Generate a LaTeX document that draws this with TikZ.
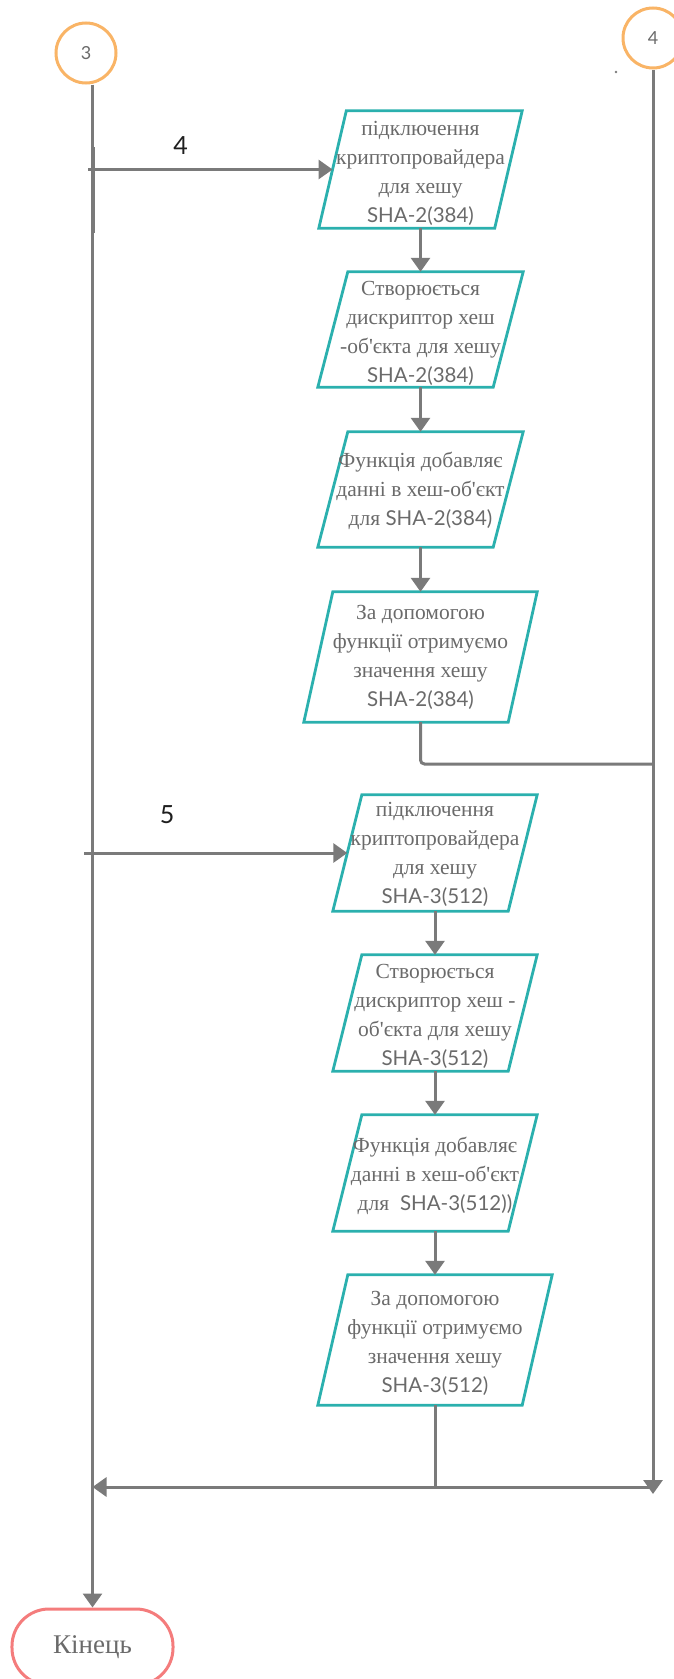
\documentclass[tikz,border=0pt]{standalone}
\usepackage{fontspec}
\setmainfont{Liberation Serif}[Ligatures=TeXOff]
\newfontfamily\lato{Lato}
\usetikzlibrary{arrows.meta,calc}
\definecolor{paraC}{HTML}{2BB0AE}
\definecolor{circC}{HTML}{F9B466}
\definecolor{endC}{HTML}{F47C7C}
\definecolor{lineC}{HTML}{7A7A7A}
\definecolor{txtC}{HTML}{6A6A6A}
\definecolor{lblC}{HTML}{1E1E1E}
\newcommand\shatxt[1]{{\lato\fontsize{20.5bp}{29bp}\selectfont #1}}
\newcommand\drawpara[2]{\draw[para] ([xshift=#2]#1.north west) -- (#1.north east) -- ([xshift=-#2]#1.south east) -- (#1.south west) -- cycle;}
\begin{document}
\begin{tikzpicture}[x=1bp,y=-1bp,
  ln/.style={draw=lineC, line width=3bp},
  arr/.style={ln, -{Triangle[length=14bp,width=19bp]}},
  box/.style={inner sep=0pt, minimum width=204bp, minimum height=116bp},
  para/.style={draw=paraC, line width=2.8bp, line join=miter},
  txt/.style={text=txtC, align=center, inner sep=0pt, font=\fontsize{21.5bp}{29bp}\selectfont},
  circS/.style={circle, draw=circC, line width=3bp, minimum size=60bp, inner sep=0pt, text=txtC, font=\lato\fontsize{18bp}{20bp}\selectfont},
  endS/.style={draw=endC, line width=3bp, rounded corners=37bp, minimum width=161bp, minimum height=76bp, text=txtC, font=\fontsize{27bp}{30bp}\selectfont},
  lbl/.style={text=lblC, inner sep=0pt, font=\lato\fontsize{25bp}{28bp}\selectfont}
]
\useasboundingbox (0,0) rectangle (674,1679);
\clip (0,0) rectangle (674,1679);

% connectors (start/end)
\node[circS] (C3) at (86,53) {3};
\node[circS] (C4) at (653,38) {4};
\node[endS] (End) at (92.5,1647) {Кінець};

% boxes
\node[box, minimum width=203bp, minimum height=117bp] (P1) at (420.5,169.5) {};
\node[box, minimum width=205bp, minimum height=115bp] (P2) at (420.5,329.5) {};
\node[box, minimum width=205bp, minimum height=115bp] (P3) at (420.5,489.5) {};
\node[box, minimum width=233bp, minimum height=130bp] (P4) at (420.5,657) {};
\node[box, minimum width=204bp, minimum height=116bp] (P5) at (435,853) {};
\node[box, minimum width=204bp, minimum height=116bp] (P6) at (435,1013) {};
\node[box, minimum width=204bp, minimum height=116bp] (P7) at (435,1173) {};
\node[box, minimum width=234bp, minimum height=130bp] (P8) at (435,1340) {};

\drawpara{P1}{27.5bp}
\drawpara{P2}{30bp}
\drawpara{P3}{30bp}
\drawpara{P4}{29bp}
\drawpara{P5}{29bp}
\drawpara{P6}{29bp}
\drawpara{P7}{29bp}
\drawpara{P8}{30bp}

\node[txt] (P1t) at ([yshift=-3.5bp]P1.center) {підключення\\криптопровайдера\\для хешу\\\shatxt{SHA-2(384)}};
\node[txt] (P2t) at ([yshift=-3.5bp]P2.center) {Створюється\\дискриптор хеш\\-об'єкта для хешу\\\shatxt{SHA-2(384)}};
\node[txt] (P3t) at ([yshift=-1bp]P3.center) {Функція добавляє\\данні в хеш-об'єкт\\для \shatxt{SHA-2(384)}};
\node[txt] (P4t) at ([yshift=0bp]P4.center) {За допомогою\\функції отримуємо\\значення хешу\\\shatxt{SHA-2(384)}};
\node[txt] (P5t) at ([yshift=-1bp]P5.center) {підключення\\криптопровайдера\\для хешу\\\shatxt{SHA-3(512)}};
\node[txt] (P6t) at ([yshift=-3.5bp]P6.center) {Створюється\\дискриптор хеш -\\об'єкта для хешу\\\shatxt{SHA-3(512)}};
\node[txt] (P7t) at ([yshift=-3bp]P7.center) {Функція добавляє\\данні в хеш-об'єкт\\для\ \ \shatxt{SHA-3(512))}};
\node[txt] (P8t) at ([yshift=-3.5bp]P8.center) {За допомогою\\функції отримуємо\\значення хешу\\\shatxt{SHA-3(512)}};

% labels
\node[lbl] (L4) at (180.5,146) {4};
\node[lbl] (L5) at (167,814.5) {5};

% coordinates
\coordinate (A4) at (88,169.5);
\coordinate (A5) at (84,853);
\coordinate (RJ4) at (653,764);
\coordinate (RJ) at (653,1487);
\coordinate (RT) at (653,1494);

% main left line
\draw[arr] (C3.south -| End.north) -- (End.north);
\draw[lineC, line width=2bp] (94.3,147) -- (94.3,233);
% right line
\draw[arr] (C4.south) -- (RT);
\fill[lineC] (616,72) circle (1.3bp);

% branches
\draw[arr] (A4) -- ($(P1.west)+(13.75,0)$);
\draw[arr] (A5) -- ($(P5.west)+(14.5,0)$);

% vertical flow
\draw[arr] (P1.south) -- (P2.north);
\draw[arr] (P2.south) -- (P3.north);
\draw[arr] (P3.south) -- (P4.north);
\draw[ln, rounded corners=4bp] (P4.south) -- (P4.south |- RJ4) -- (RJ4);
\draw[arr] (P5.south) -- (P6.north);
\draw[arr] (P6.south) -- (P7.north);
\draw[arr] (P7.south) -- (P8.north);
\draw[ln] (P8.south) -- (P8.south |- RJ);
\draw[arr] (RJ) -- (End.north |- RJ);
\end{tikzpicture}
\end{document}
